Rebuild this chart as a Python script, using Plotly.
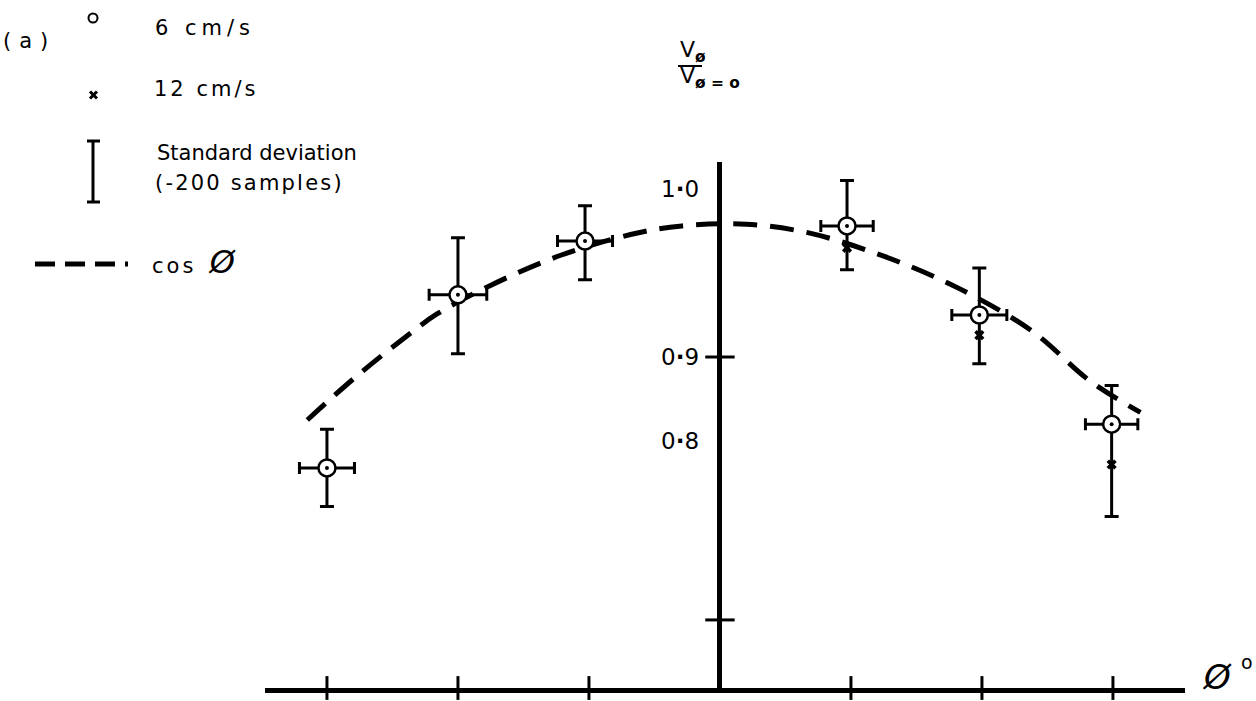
import plotly.graph_objects as go

# ---- data -------------------------------------------------------------
# probe angle phi (degrees) for the 6 cm/s runs
PHI_6 = [-30.0, -20.0, -10.3, 9.7, 19.8, 29.9]
# normalised velocity V_phi / V_phi=0 at 6 cm/s
V_6 = [0.834, 0.937, 0.969, 0.978, 0.925, 0.860]
V_6_ERR_UP = [0.023, 0.034, 0.021, 0.027, 0.028, 0.023]
V_6_ERR_DOWN = [0.023, 0.035, 0.023, 0.026, 0.029, 0.055]
PHI_ERR = [2.1, 2.2, 2.1, 2.0, 2.1, 2.0]

# 12 cm/s runs (only where they separate from the 6 cm/s points)
PHI_12 = [9.7, 19.8, 29.9]
V_12 = [0.965, 0.913, 0.836]

# hand-drawn cos(phi) reference curve
CURVE_PHI = [-31.5, -27.9, -23.9, -21.6, -17.6, -12.1, -6.3, -2.9, 2.0,
             6.7, 12.5, 18.2, 23.9, 28.2, 32.1]
CURVE_V = [0.8625, 0.8875, 0.9125, 0.9256, 0.9423, 0.9607, 0.9738, 0.978,
           0.979, 0.974, 0.960, 0.941, 0.915, 0.886, 0.867]

# axis furniture
X_TICKS = [-30, -20, -10, 10, 20, 30]
Y_TICK_MARKS = [0.9, 0.7435]
Y_LABEL_POS = [1.0, 0.9, 0.85]
Y_LABELS = ["1<b>·</b>0", "0<b>·</b>9", "0<b>·</b>8"]

X_RANGE = [-34.73, 35.50]
Y_RANGE = [0.70298, 1.01607]

W, H = 1256, 701
ML, MR, MT, MB = 265, 71, 162, 13
PW, PH = W - ML - MR, H - MT - MB

FONT = "DejaVu Sans"
INK = "black"


def px(x):
    return (x - ML) / PW


def py(y):
    return (H - MB - y) / PH


def spaced(text, gap):
    return '<span style="letter-spacing:%spx">%s</span>' % (gap, text)


fig = go.Figure()

# cos(phi) dashed curve
fig.add_trace(go.Scatter(
    x=CURVE_PHI, y=CURVE_V, mode="lines",
    line=dict(color=INK, width=5, dash="24px,13px", shape="spline"),
    hoverinfo="skip"))

# error bars + open circles (6 cm/s)
fig.add_trace(go.Scatter(
    x=PHI_6, y=V_6, mode="markers",
    marker=dict(symbol="circle", size=17, color="white",
                line=dict(color=INK, width=2.5)),
    error_y=dict(type="data", symmetric=False, array=V_6_ERR_UP,
                 arrayminus=V_6_ERR_DOWN, color=INK, thickness=3, width=7),
    error_x=dict(type="data", array=PHI_ERR, color=INK, thickness=3, width=6),
    cliponaxis=False))
fig.add_trace(go.Scatter(
    x=PHI_6, y=V_6, mode="markers",
    marker=dict(symbol="circle", size=4, color=INK)))

# crosses (12 cm/s)
fig.add_trace(go.Scatter(
    x=PHI_12, y=V_12, mode="markers",
    marker=dict(symbol="x", size=9, color=INK, line=dict(width=0))))

# axis tick crosses
fig.add_trace(go.Scatter(
    x=X_TICKS, y=[Y_RANGE[0]] * len(X_TICKS), mode="markers",
    marker=dict(symbol="line-ns", size=17, line=dict(color=INK, width=3)),
    cliponaxis=False))
fig.add_trace(go.Scatter(
    x=[0] * len(Y_TICK_MARKS), y=Y_TICK_MARKS, mode="markers",
    marker=dict(symbol="line-ew", size=21, line=dict(color=INK, width=3)),
    cliponaxis=False))

annotations = []
for yv, lab in zip(Y_LABEL_POS, Y_LABELS):
    annotations.append(dict(x=0, y=yv, xref="x", yref="y", text=lab,
                            xanchor="right", yanchor="middle", xshift=-19,
                            showarrow=False, font=dict(size=23, color=INK, family=FONT)))

# axis title on the right of the phi axis
annotations.append(dict(x=px(1217), y=py(677), xref="paper", yref="paper",
                        text="<i>Ø</i>", showarrow=False, xanchor="center", yanchor="middle",
                        font=dict(size=34, color=INK, family=FONT)))
annotations.append(dict(x=px(1247), y=py(662), xref="paper", yref="paper",
                        text="o", showarrow=False, xanchor="center", yanchor="middle",
                        font=dict(size=19, color=INK, family=FONT)))

# ordinate title  V_phi / V_phi=0
title_font = dict(size=22, color=INK, family=FONT)
annotations.append(dict(x=px(678), y=py(51), xref="paper", yref="paper",
                        text="V<sub><b>ø</b></sub>", showarrow=False, xanchor="left",
                        yanchor="middle", font=title_font))
annotations.append(dict(x=px(678), y=py(78), xref="paper", yref="paper",
                        text="V<sub><b>ø = o</b></sub>", showarrow=False, xanchor="left",
                        yanchor="middle", font=title_font))

# key
key_font = dict(size=21, color=INK, family=FONT)
key = [
    dict(x=px(1), y=py(41), text=spaced("(a)", 8), xanchor="left"),
    dict(x=px(153), y=py(28), text=spaced("6 cm/s", 5), xanchor="left"),
    dict(x=px(152), y=py(89), text=spaced("12 cm/s", 3), xanchor="left"),
    dict(x=px(155), y=py(153), text="Standard deviation", xanchor="left"),
    dict(x=px(153), y=py(183), text=spaced("(-200 samples)", 2.2), xanchor="left"),
    dict(x=px(150), y=py(262),
         text=spaced("cos", 3) + '  <i><span style="font-size:32px">Ø</span></i>',
         xanchor="left"),
]
for a in key:
    a.update(xref="paper", yref="paper", yanchor="middle", showarrow=False,
             font=key_font)
annotations += key

shapes = [
    # key symbols
    dict(type="circle", xref="paper", yref="paper",
         x0=px(88.5), x1=px(97.5), y0=py(22.5), y1=py(13.5),
         line=dict(color=INK, width=2)),
    dict(type="line", xref="paper", yref="paper",
         x0=px(90), x1=px(97), y0=py(91.5), y1=py(98.5), line=dict(color=INK, width=3)),
    dict(type="line", xref="paper", yref="paper",
         x0=px(90), x1=px(97), y0=py(98.5), y1=py(91.5), line=dict(color=INK, width=3)),
    dict(type="line", xref="paper", yref="paper",
         x0=px(93), x1=px(93), y0=py(141), y1=py(202), line=dict(color=INK, width=3)),
    dict(type="line", xref="paper", yref="paper",
         x0=px(87), x1=px(100), y0=py(141), y1=py(141), line=dict(color=INK, width=3)),
    dict(type="line", xref="paper", yref="paper",
         x0=px(87), x1=px(100), y0=py(202), y1=py(202), line=dict(color=INK, width=3)),
    dict(type="line", xref="paper", yref="paper",
         x0=px(35), x1=px(128), y0=py(264), y1=py(264),
         line=dict(color=INK, width=5, dash="20px,10px")),
    # fraction bar of the ordinate title
    dict(type="line", xref="paper", yref="paper",
         x0=px(678), x1=px(702), y0=py(66), y1=py(66), line=dict(color=INK, width=2)),
]

fig.update_layout(
    width=W, height=H,
    margin=dict(l=ML, r=MR, t=MT, b=MB, pad=0),
    paper_bgcolor="white", plot_bgcolor="white",
    showlegend=False,
    annotations=annotations,
    shapes=shapes,
    xaxis=dict(range=X_RANGE, showgrid=False, showticklabels=False, ticks="",
               zeroline=True, zerolinecolor=INK, zerolinewidth=5,
               showline=True, linecolor=INK, linewidth=5, mirror=False),
    yaxis=dict(range=Y_RANGE, showgrid=False, showticklabels=False, ticks="",
               zeroline=False, showline=False),
)

fig.write_html("out.html")
